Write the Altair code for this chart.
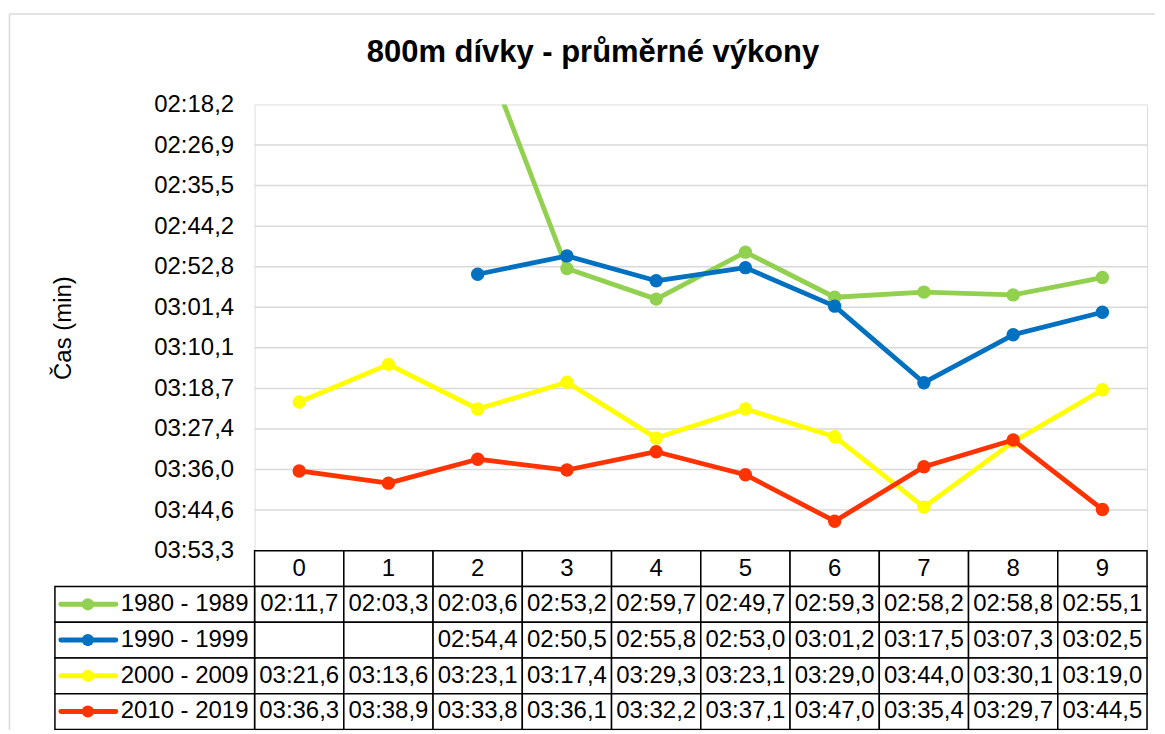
import altair as alt
import pandas as pd

FONT = "Liberation Sans"

TITLE = "800m dívky - průměrné výkony"
Y_TITLE = "Čas (min)"
CATEGORIES = [0, 1, 2, 3, 4, 5, 6, 7, 8, 9]
SERIES = ["1980 - 1989", "1990 - 1999", "2000 - 2009", "2010 - 2019"]
COLORS = ["#92D050", "#0070C0", "#FFFF00", "#FF3300"]

# average times in seconds
S1980 = [131.7, 123.3, 123.6, 173.2, 179.7, 169.7, 179.3, 178.2, 178.8, 175.1]
S1990 = [None, None, 174.4, 170.5, 175.8, 173.0, 181.2, 197.5, 187.3, 182.5]
S2000 = [201.6, 193.6, 203.1, 197.4, 209.3, 203.1, 209.0, 224.0, 210.1, 199.0]
S2010 = [216.3, 218.9, 213.8, 216.1, 212.2, 217.1, 227.0, 215.4, 209.7, 224.5]
VALUES = [S1980, S1990, S2000, S2010]

TICK_VALUES = [138.24, 146.88, 155.52, 164.16, 172.8, 181.44, 190.08,
               198.72, 207.36, 216.0, 224.64, 233.28]
TICK_LABELS = ["02:18,2", "02:26,9", "02:35,5", "02:44,2", "02:52,8", "03:01,4",
               "03:10,1", "03:18,7", "03:27,4", "03:36,0", "03:44,6", "03:53,3"]


def fmt(v):
    m = int(v // 60)
    s = v - 60 * m
    return f"{m:02d}:{s:04.1f}".replace(".", ",")


rows = []
for si, (name, vals) in enumerate(zip(SERIES, VALUES)):
    for c, v in zip(CATEGORIES, vals):
        rows.append({"series": name, "row": si + 1, "cat": c, "x": c + 0.5,
                     "sec": v, "label": "" if v is None else fmt(v)})
df = pd.DataFrame(rows)

W, H, TH = 894, 447, 179
color_scale = alt.Scale(domain=SERIES, range=COLORS)

# ---------------- top: line chart ----------------
xs = alt.Scale(domain=[0, 10], nice=False, zero=False)
ys = alt.Scale(domain=[TICK_VALUES[0], TICK_VALUES[-1]], reverse=True, nice=False, zero=False)
vals_js = "[" + ",".join(str(v) for v in TICK_VALUES) + "]"
labs_js = "[" + ",".join("'" + l + "'" for l in TICK_LABELS) + "]"
yaxis = alt.Axis(values=TICK_VALUES, labelExpr=f"{labs_js}[indexof({vals_js}, datum.value)]",
                 domain=False, ticks=False, grid=False, labelFont=FONT, labelFontSize=24,
                 labelColor="black", labelPadding=21, title=Y_TITLE, titleFont=FONT,
                 titleFontSize=24, titleFontWeight="normal", titleColor="black",
                 titlePadding=78)

grid_df = pd.DataFrame({"v": TICK_VALUES[1:], "x0": 0, "x1": 10})
grid = alt.Chart(grid_df).mark_rule(color="#D9D9D9", strokeWidth=1.5).encode(
    x=alt.X("x0:Q", scale=xs, axis=None), x2="x1:Q",
    y=alt.Y("v:Q", scale=ys, axis=yaxis))

layers = [grid]
for name, col in zip(SERIES, COLORS):
    d = df[(df.series == name) & df.sec.notnull()]
    base = alt.Chart(d).encode(x=alt.X("x:Q", scale=xs, axis=None),
                               y=alt.Y("sec:Q", scale=ys, axis=yaxis))
    layers.append(base.mark_line(color=col, strokeWidth=4.8, clip=True,
                                 strokeJoin="round", strokeCap="round"))
    layers.append(base.mark_circle(color=col, size=180, opacity=1, clip=True))

title_layer = alt.Chart(pd.DataFrame({"t": [TITLE]})).mark_text(
    font=FONT, fontSize=31, fontWeight="bold", baseline="alphabetic", align="center",
    color="black").encode(text="t:N", x=alt.value(339), y=alt.value(-43))

border = alt.Chart(pd.DataFrame({"a": [0]})).mark_rule(color="#D9D9D9", strokeWidth=1.5)
top_line = border.encode(x=alt.value(-245.5), x2=alt.value(902), y=alt.value(-90.5))
left_line = border.encode(x=alt.value(-245.5), y=alt.value(-90.5), y2=alt.value(626.5))

top = alt.layer(*layers, title_layer, top_line, left_line).properties(width=W, height=H)

# ---------------- bottom: data table ----------------
tx = alt.Scale(domain=[0, 10], nice=False, zero=False)
ty = alt.Scale(domain=[0, 5], reverse=True, nice=False, zero=False)
LEG_LEFT = -2.237

cell_rows = []
for r in range(5):
    for c in CATEGORIES:
        cell_rows.append({"x0": c, "x1": c + 1, "y0": r, "y1": r + 1})
for r in range(1, 5):
    cell_rows.append({"x0": LEG_LEFT, "x1": 0, "y0": r, "y1": r + 1})
cells = alt.Chart(pd.DataFrame(cell_rows)).mark_rect(
    fill="white", stroke="black", strokeWidth=1.5).encode(
    x=alt.X("x0:Q", scale=tx, axis=None), x2="x1:Q",
    y=alt.Y("y0:Q", scale=ty, axis=None), y2="y1:Q")

hdr = pd.DataFrame({"x": [c + 0.5 for c in CATEGORIES], "y": 0.5,
                    "t": [str(c) for c in CATEGORIES]})
hdr_text = alt.Chart(hdr).mark_text(font=FONT, fontSize=24, color="black",
                                    baseline="middle", align="center").encode(
    x=alt.X("x:Q", scale=tx, axis=None), y=alt.Y("y:Q", scale=ty, axis=None), text="t:N")

vd = df[df.sec.notnull()].copy()
vd["y"] = vd["row"] + 0.5
val_text = alt.Chart(vd).mark_text(font=FONT, fontSize=24, color="black",
                                   baseline="middle", align="center").encode(
    x=alt.X("x:Q", scale=tx, axis=None), y=alt.Y("y:Q", scale=ty, axis=None), text="label:N")

leg = pd.DataFrame({"series": SERIES, "y": [i + 1.5 for i in range(4)],
                    "lx0": -2.17, "lx1": -1.555, "cx": -1.868, "tx": -1.50})
leg_line = alt.Chart(leg).mark_rule(strokeWidth=5, strokeCap="round").encode(
    x=alt.X("lx0:Q", scale=tx, axis=None), x2="lx1:Q",
    y=alt.Y("y:Q", scale=ty, axis=None),
    color=alt.Color("series:N", scale=color_scale, legend=None))
leg_dot = alt.Chart(leg).mark_circle(size=150, opacity=1).encode(
    x=alt.X("cx:Q", scale=tx, axis=None), y=alt.Y("y:Q", scale=ty, axis=None),
    color=alt.Color("series:N", scale=color_scale, legend=None))
leg_text = alt.Chart(leg).mark_text(font=FONT, fontSize=24, color="black",
                                    baseline="middle", align="left").encode(
    x=alt.X("tx:Q", scale=tx, axis=None), y=alt.Y("y:Q", scale=ty, axis=None),
    text="series:N")

bottom = alt.layer(cells, hdr_text, val_text, leg_line, leg_dot, leg_text).properties(
    width=W, height=TH)

chart = alt.vconcat(top, bottom, spacing=0, bounds="flush").properties(
    padding={"left": 0, "top": 4, "right": 0, "bottom": 0}
).configure_view(stroke=None).configure(font=FONT)

chart.save("out.html", embed_options={"renderer": "svg", "actions": False})
